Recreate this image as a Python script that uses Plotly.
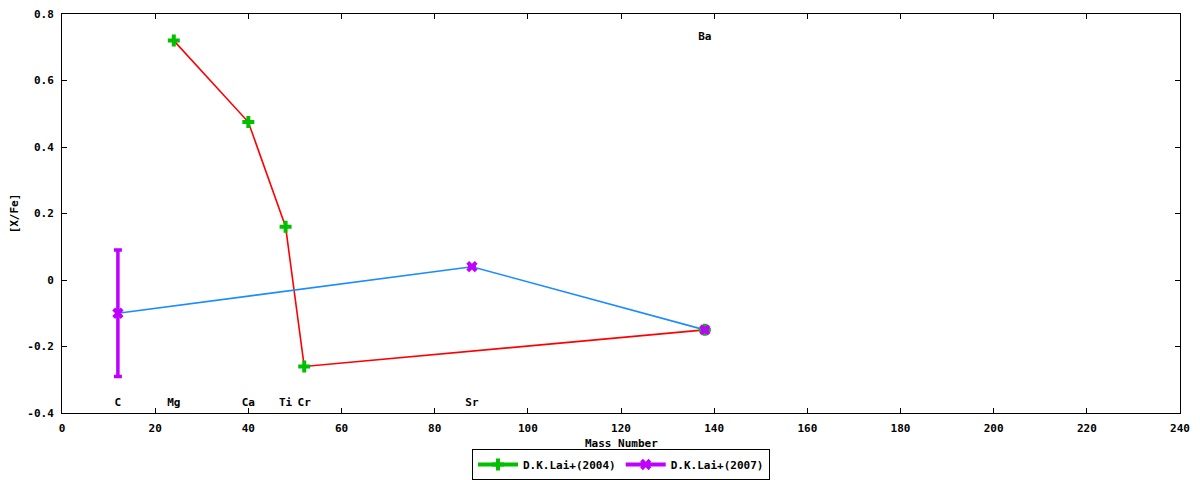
import plotly.graph_objects as go

# D.K.Lai+(2004)  -> green points joined by red line
lai04_mass = [24, 40, 48, 52, 138]
lai04_xfe = [0.72, 0.475, 0.16, -0.26, -0.15]

# D.K.Lai+(2007)  -> purple points joined by blue line
lai07_mass = [12, 88, 138]
lai07_xfe = [-0.10, 0.04, -0.15]
lai07_err = [0.19, 0, 0]

# element labels
elem_names = ["C", "Mg", "Ca", "Ti", "Cr", "Sr", "Ba"]
elem_mass = [12, 24, 40, 48, 52, 88, 138]
elem_y = [-0.37, -0.37, -0.37, -0.37, -0.37, -0.37, 0.73]

# y tick labels
y_ticks = [-0.4, -0.2, 0, 0.2, 0.4, 0.6, 0.8]
y_ticktext = ["-0.4", "-0.2", "0", "0.2", "0.4", "0.6", "0.8"]

green = "#00c000"
purple = "#c000ff"
red = "#ff0000"
blue = "#1a8cff"
mono = dict(family="DejaVu Sans Mono", size=11, color="black", weight="bold")

fig = go.Figure()

# connecting lines
fig.add_trace(go.Scatter(x=lai04_mass, y=lai04_xfe, mode="lines",
                         line=dict(color=red, width=1.6), showlegend=False, hoverinfo="skip"))
fig.add_trace(go.Scatter(x=lai07_mass, y=lai07_xfe, mode="lines",
                         line=dict(color=blue, width=1.6), showlegend=False, hoverinfo="skip"))

# points
fig.add_trace(go.Scatter(x=lai04_mass, y=lai04_xfe, mode="markers",
                         marker=dict(symbol="cross", size=10, color=green),
                         showlegend=False))
fig.add_trace(go.Scatter(x=lai07_mass, y=lai07_xfe, mode="markers",
                         marker=dict(symbol="x", size=10, color=purple),
                         error_y=dict(type="data", array=lai07_err, color=purple,
                                      thickness=3.5, width=4),
                         showlegend=False))

# legend entries
fig.add_trace(go.Scatter(x=[None], y=[None], mode="lines+markers", name="D.K.Lai+(2004)",
                         line=dict(color=green, width=4),
                         marker=dict(symbol="cross", size=10, color=green)))
fig.add_trace(go.Scatter(x=[None], y=[None], mode="lines+markers", name="D.K.Lai+(2007)",
                         line=dict(color=purple, width=4),
                         marker=dict(symbol="x", size=10, color=purple)))

# element names
fig.add_trace(go.Scatter(x=elem_mass, y=elem_y, mode="text", text=elem_names,
                         textposition="middle center", textfont=mono,
                         showlegend=False, hoverinfo="skip"))

axis_common = dict(showline=True, linecolor="black", linewidth=1, mirror="ticks",
                   ticks="inside", ticklen=5, tickcolor="black", showgrid=False,
                   zeroline=False, tickfont=mono, automargin=False,
                   ticklabeloverflow="allow", ticklabelstandoff=5)

fig.update_xaxes(range=[0, 240], dtick=20, **axis_common)
fig.update_yaxes(range=[-0.4, 0.8], tickvals=y_ticks, ticktext=y_ticktext,
                 title=dict(text="[X/Fe]", font=mono, standoff=20), **axis_common)

# x title placed by hand so it sits between tick labels and legend
fig.add_annotation(text="Mass Number", xref="paper", yref="paper", x=0.5, y=0,
                   yshift=-30, yanchor="middle", showarrow=False, font=mono)

# page body adds an 8px offset, so the figure is sized to fit the window
fig.update_layout(
    width=1192, height=472,
    margin=dict(l=54, r=20, t=6, b=67),
    plot_bgcolor="white", paper_bgcolor="white",
    font=mono,
    legend=dict(orientation="h", x=0.5, xanchor="center", y=0.0, yanchor="bottom",
                yref="container",
                bordercolor="black", borderwidth=1, font=mono,
                itemwidth=40, tracegroupgap=0),
)

fig.write_html("out.html")
